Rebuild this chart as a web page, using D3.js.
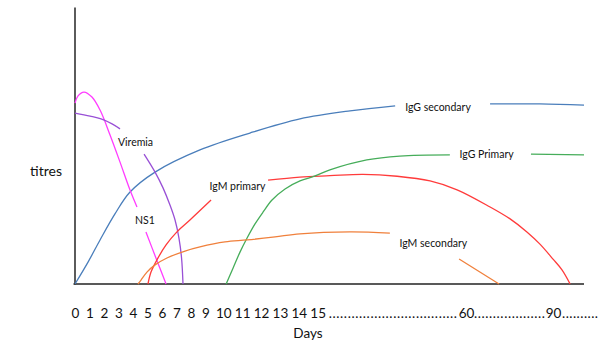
<!DOCTYPE html>
<html>
<head>
<meta charset="utf-8">
<script src="https://cdn.jsdelivr.net/npm/d3@7"></script>
<style>
  html, body { margin: 0; padding: 0; background: #fff; }
  svg { display: block; }
  text { font-family: Lato, "Open Sans", sans-serif; fill: #111; }
</style>
</head>
<body>
<div id="chart"></div>
<script>
// ---- Data (day, titre) ; null marks a gap where a label sits ----
const tickDays = [0,1,2,3,4,5,6,7,8,9,10,11,12,13,14,15,60,90];
const igGSecondary = [[0,0],[0.9,7.9],[1.73,15.9],[2.76,25.3],[3.8,33.2],[5.53,40.4],[8.63,48.4],[11.41,54.5],[14.06,59.6],[24.8,62.5],[38.5,64.3],null,[68.3,65.0],[85.5,65.0],[100.7,64.6]];
const ns1 = [[0,65.3],[0.21,67.9],[0.62,69.3],[1.17,67.5],[1.73,62.8],[2.42,53.8],[3.11,44.0],[3.8,33.9],[4.28,27.8],null,[4.9,18.8],[5.59,9.4],[6.29,0]];
const viremia = [[0,61.7],[1.04,60.6],[1.8,59.6],[2.56,57.8],[3.11,56.0],null,[4.77,46.9],[5.53,40.4],[6.08,34.7],[6.56,28.5],[6.91,23.1],[7.18,16.6],[7.36,9.4],[7.46,0]];
const igMPrimary = [[5.04,0],[5.25,4.3],[5.66,8.7],[6.29,14.1],[7.04,18.8],[7.94,23.1],[9.32,30.3],null,[12.37,37.5],[14.06,38.6],[18.7,39.1],[28.7,39.6],[39.1,38.9],[49.1,37.2],[57.3,34.0],[68.3,27.8],[75.2,23.5],[81.0,18.8],[85.5,14.4],[90.0,9.0],[93.1,5.1],[95.9,0]];
const igGPrimary = [[10.15,0],[10.52,5.8],[10.89,11.6],[11.26,16.6],[11.68,21.7],[12.11,26.0],[12.58,30.3],[13.27,34.3],[14.06,37.2],[14.86,39.0],[18.7,41.2],[29.9,44.8],[39.9,46.2],[55.1,46.6],null,[82.4,46.9],[100.7,46.6]];
const igMSecondary = [[4.35,0],[4.56,1.4],[4.97,4.3],[5.53,6.9],[6.35,9.4],[7.6,11.9],[8.63,13.4],[10.09,15.2],[11.26,15.9],[12.74,17.0],[14.06,18.1],[24.8,18.8],[36.9,18.4],null,[57.9,9.0],[71.4,0]];
const seriesNames = ["IgG secondary","NS1","Viremia","IgM primary","IgG Primary","IgM secondary"];
const seriesData = [igGSecondary, ns1, viremia, igMPrimary, igGPrimary, igMSecondary];
const labelAnchors = [[51.5,63.9],[4.83,23.1],[4.18,51.3],[10.75,35.4],[67.1,46.8],[50.1,14.8]];

// ---- Styles ----
const colors = ["#4a7ebb","#ff3cff","#9950d6","#ff3b3b","#46ad5a","#f0803c"];
const W = 600, H = 344;

const svg = d3.select("#chart").append("svg").attr("width", W).attr("height", H);

// Non-uniform (schematic) day axis
const x = d3.scaleLinear().domain([0,9,10,15,60,90]).range([75,205.3,223.3,317.7,466,553]);
const y = d3.scaleLinear().domain([0,100]).range([284,7]);

// Y axis (line only)
const yAxis = svg.append("g").attr("transform","translate(74.5,0)")
  .call(d3.axisLeft(y).tickValues([]).tickSizeOuter(0));
yAxis.select(".domain").attr("stroke","#333").attr("stroke-width",1.6);

// X axis line
svg.append("line").attr("x1", x(0)-1.5).attr("x2", x(100.7)).attr("y1", y(0)).attr("y2", y(0))
  .attr("stroke","#222").attr("stroke-width",1.6);

// X tick labels
const xAxis = svg.append("g").attr("transform",`translate(0,${y(0)})`)
  .call(d3.axisBottom(x).tickValues(tickDays).tickFormat(d3.format("d")).tickSize(0).tickPadding(24.5));
xAxis.select(".domain").remove();
xAxis.selectAll("text").attr("font-size",13.5).attr("font-family","Lato, 'Open Sans', sans-serif").attr("fill","#1a1a1a");

// Dotted fillers between far ticks
const fillers = [[x(15)+11, x(60)-9, 34],[x(60)+8, x(90)-8, 19],[x(90)+9, 598, 10]];
svg.selectAll("text.filler").data(fillers).join("text")
  .attr("class","filler")
  .attr("x", d => d[0]).attr("y", y(0)+34)
  .attr("font-size", 13.5)
  .attr("textLength", d => d[1]-d[0]).attr("lengthAdjust","spacing")
  .text(d => ".".repeat(d[2]));

// Curves
const line = d3.line().defined(d => d !== null)
  .x(d => x(d[0])).y(d => y(d[1])).curve(d3.curveCatmullRom.alpha(0.5));

svg.selectAll("path.series").data(seriesData).join("path")
  .attr("class","series")
  .attr("fill","none")
  .attr("stroke",(d,i) => colors[i])
  .attr("stroke-width",1.3)
  .attr("d", line);

// Series labels
svg.selectAll("text.lbl").data(seriesNames).join("text")
  .attr("class","lbl")
  .attr("x",(d,i) => x(labelAnchors[i][0]))
  .attr("y",(d,i) => y(labelAnchors[i][1]))
  .attr("text-anchor","middle").attr("dominant-baseline","central")
  .attr("font-size",10.5)
  .text(d => d);

// Axis titles
svg.append("text").attr("x",46).attr("y",170).attr("text-anchor","middle")
  .attr("dominant-baseline","central").attr("font-size",14).text("titres");
svg.append("text").attr("x",308).attr("y",333).attr("text-anchor","middle")
  .attr("dominant-baseline","central").attr("font-size",13.5).text("Days");
</script>
</body>
</html>
